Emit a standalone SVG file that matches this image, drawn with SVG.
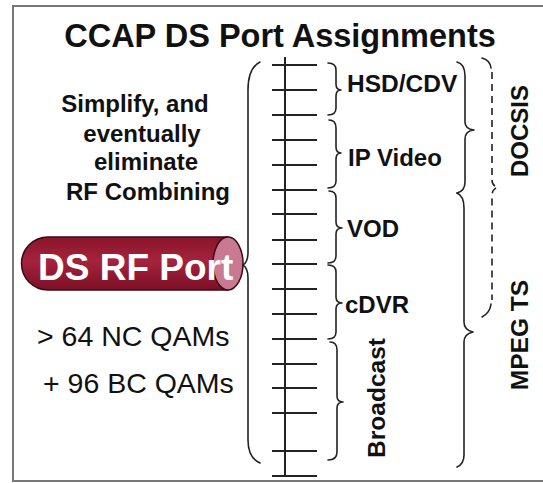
<svg xmlns="http://www.w3.org/2000/svg" width="543" height="483" viewBox="0 0 543 483">
<style>
.b{font-family:"Liberation Sans",Arial,sans-serif;font-weight:bold;fill:#111}
.r{font-family:"Liberation Sans",Arial,sans-serif;fill:#111}
.br{fill:none;stroke:#222;stroke-width:1.6;stroke-linecap:round;stroke-linejoin:round}
.tk{stroke:#222;stroke-width:2}
.ds{fill:none;stroke:#222;stroke-width:1.6;stroke-dasharray:7,5}
</style>
<defs>
<linearGradient id="cyl" x1="0" y1="0" x2="0" y2="1">
<stop offset="0" stop-color="#8a1429"/>
<stop offset="0.45" stop-color="#a5233d"/>
<stop offset="1" stop-color="#7c1025"/>
</linearGradient>
</defs>
<rect x="0" y="0" width="543" height="483" fill="#fff"/>
<rect id="frame" x="13" y="6" width="540" height="475" fill="none" stroke="#777" stroke-width="2"/>
<text class="b" x="280" y="47" font-size="32.5" text-anchor="middle">CCAP DS Port Assignments</text>
<g id="note">
<text class="b" x="135" y="112" font-size="24" text-anchor="middle">Simplify, and</text>
<text class="b" x="142" y="142" font-size="24" text-anchor="middle">eventually</text>
<text class="b" x="146" y="170" font-size="24" text-anchor="middle">eliminate</text>
<text class="b" x="148" y="200" font-size="24" text-anchor="middle">RF Combining</text>
</g>
<g id="port">
<path d="M48,237 H228 V290 H48 A26.5,26.5 0 0 1 48,237 Z" fill="url(#cyl)" stroke="#3a0a14" stroke-width="1.5"/>
<ellipse cx="228" cy="263.5" rx="15" ry="26.5" fill="#c97a92" stroke="#3a0a14" stroke-width="1.5"/>
<text x="38" y="280" font-family="'Liberation Sans',Arial,sans-serif" font-weight="bold" font-size="37" fill="#fff">DS RF Port</text>
</g>
<g id="qams">
<text class="r" x="37" y="346" font-size="28.5">&gt; 64 NC QAMs</text>
<text class="r" x="43" y="393" font-size="28.5">+ 96 BC QAMs</text>
</g>
<g id="bar">
<line class="tk" x1="285" y1="57" x2="285" y2="477"/>
<path class="tk" d="M272,65H317M272,90H317M272,115H317M272,140H317M272,165H317M272,190H317M272,214H317M272,240H317M272,264H317M272,289H317M272,314H317M272,339H317M272,364H317M272,388H317M272,413H317M272,451H317M272,476H317"/>
</g>
<g id="connectors">
<path class="br" d="M260,62 Q248,68 248,90 L248,252 Q248,262 243,265 Q248,268 248,278 L248,440 Q248,458 260,463"/>
<path class="br" d="M328,63 Q336,63 336,70 L336,84 Q336,90 341,90 Q336,90 336,96 L336,108 Q336,115 328,115"/>
<path class="br" d="M329,120 Q336,120 336,128 L336,147 Q336,153 341,153 Q336,153 336,159 L336,181 Q336,188 328,188"/>
<path class="br" d="M329,191 Q336,191 336,198 L336,222 Q336,228 342,228 Q336,228 336,234 L336,256 Q336,263 328,263"/>
<path class="br" d="M328,265 Q336,265 336,272 L336,297 Q336,303 342,303 Q336,303 336,309 L336,332 Q336,339 328,339"/>
<path class="br" d="M330,342 Q337,342 337,350 L337,396 Q337,402 343,402 Q337,402 337,408 L337,452 Q337,460 328,460"/>
<path class="br" d="M457,62 Q465,64 465,76 L465,122 Q465,129 474,130 Q465,131 465,139 L465,182 Q465,191 457,193"/>
<path class="br" d="M457,193 Q464,196 464,208 L464,322 Q464,330 473,332 Q464,334 464,342 L464,455 Q464,464 457,467"/>
<path class="br" d="M482,58 Q490,60 491,68"/>
<path class="ds" d="M492,72 L492,180 Q492,186 498,187 Q492,189 492,196 L492,300"/>
<path class="br" d="M491,304 Q490,313 482,317"/>
</g>
<g id="labels">
<text class="b" x="347" y="92" font-size="24.5">HSD/CDV</text>
<text class="b" x="348" y="166" font-size="24">IP Video</text>
<text class="b" x="347" y="237" font-size="24">VOD</text>
<text class="b" x="345" y="313" font-size="24">cDVR</text>
<text class="b" transform="translate(385,398) rotate(-90)" font-size="24.5" text-anchor="middle">Broadcast</text>
<text class="b" transform="translate(528,131) rotate(-90)" font-size="24" text-anchor="middle">DOCSIS</text>
<text class="b" transform="translate(528,335) rotate(-90)" font-size="24.5" text-anchor="middle">MPEG TS</text>
</g>
</svg>
